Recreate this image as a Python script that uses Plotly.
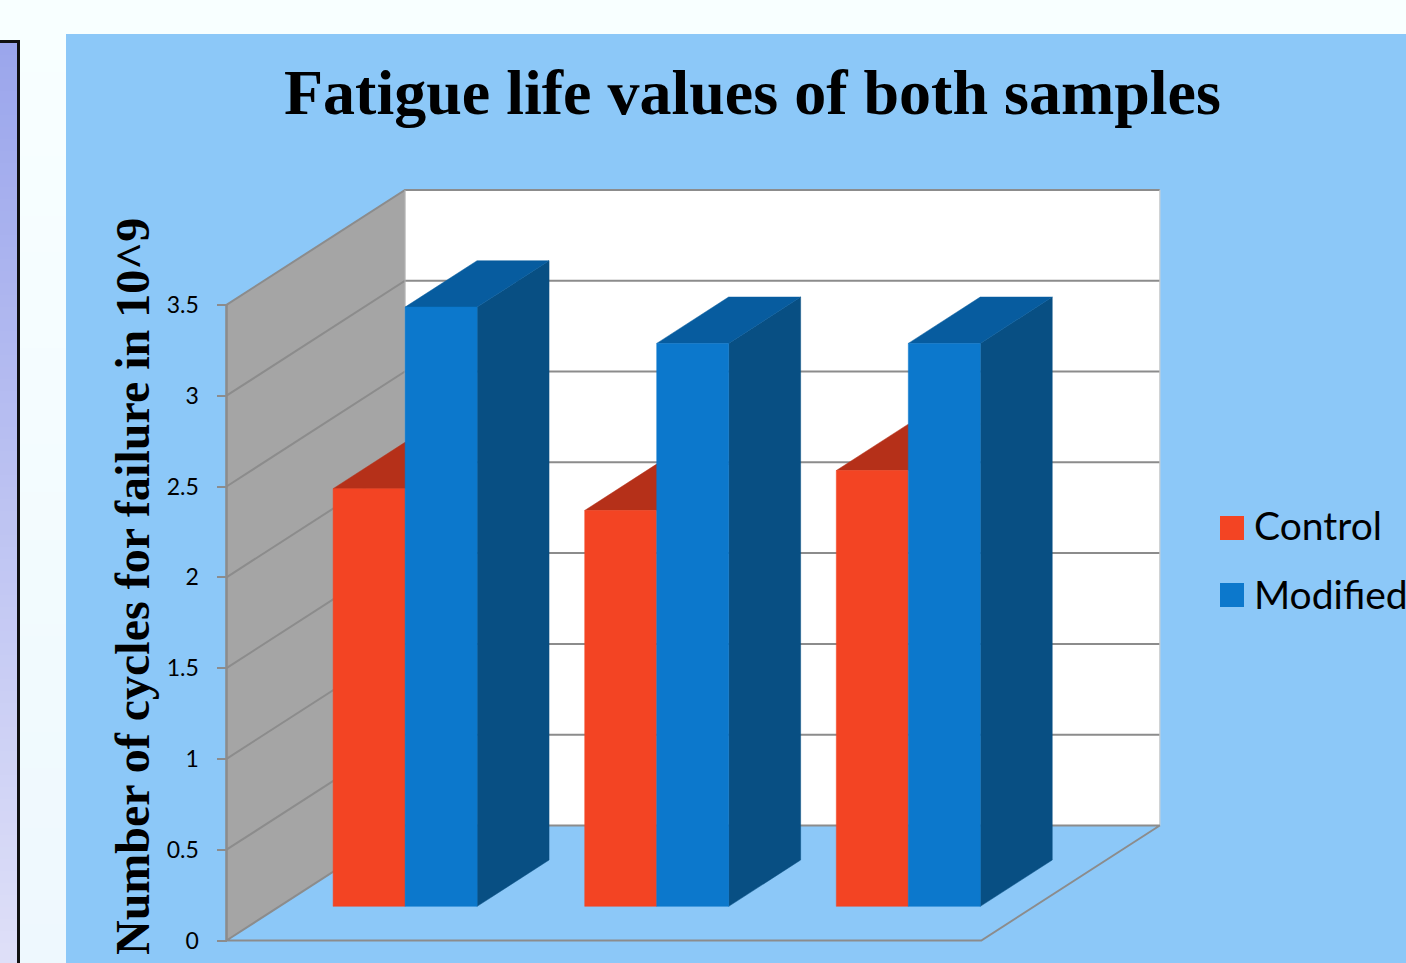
import plotly.graph_objects as go

# Chart values
samples = ["1", "2", "3"]
control = [2.3, 2.18, 2.4]
modified = [3.3, 3.1, 3.1]
y_ticks = [0, 0.5, 1, 1.5, 2, 2.5, 3, 3.5]
y_tick_labels = ["0", "0.5", "1", "1.5", "2", "2.5", "3", "3.5"]
series_names = ["Control", "Modified"]
title_text = "Fatigue life values of both samples"
y_title_text = "Number of cycles for failure in 10^9"

# Page geometry (pixels)
W, H = 1406, 963
ORIGIN_X, ORIGIN_Y = 226.5, 940.5
PX_PER_CATEGORY = 251.6
PX_PER_UNIT = 181.6

# Oblique projection of the depth axis, in axis units
DEPTH_X = 178.5 / PX_PER_CATEGORY
DEPTH_Y = 115.0 / PX_PER_UNIT
BAR_FRONT, BAR_BACK = 0.297, 0.70
BAR_WIDTH = 72.0 / PX_PER_CATEGORY
BAR_INSET = 0.213

# Colours
PANEL_BLUE = "#8CC8F8"
GREY_LINE = "#8C8C8C"
WALL = "#A5A5A5"
RED = {"front": "#F34423", "top": "#B53019"}
BLUE = {"front": "#0C78CC", "top": "#075C9F", "side": "#084F83"}


def project(x, value, depth):
    return x + depth * DEPTH_X, value + depth * DEPTH_Y


def face(corners, color, name):
    pts = [project(*c) for c in corners]
    xs = [p[0] for p in pts] + [pts[0][0]]
    ys = [p[1] for p in pts] + [pts[0][1]]
    return go.Scatter(x=xs, y=ys, mode="lines", fill="toself", fillcolor=color,
                      line=dict(width=0.5, color=color), name=name,
                      hoverinfo="skip", showlegend=False)


def edge(corners, width=2, color=GREY_LINE):
    pts = [project(*c) for c in corners]
    return go.Scatter(x=[p[0] for p in pts], y=[p[1] for p in pts], mode="lines",
                      line=dict(width=width, color=color),
                      hoverinfo="skip", showlegend=False)


fig = go.Figure()
top_value = y_ticks[-1]
n = len(samples)

# Back and side walls
fig.add_trace(face([(0, 0, 1), (n, 0, 1), (n, top_value, 1), (0, top_value, 1)], "#FFFFFF", "back wall"))
fig.add_trace(face([(0, 0, 0), (0, 0, 1), (0, top_value, 1), (0, top_value, 0)], WALL, "side wall"))

# Gridlines run along the side wall and across the back wall
for v in y_ticks[1:]:
    fig.add_trace(edge([(0, v, 0), (0, v, 1), (n, v, 1)]))

# Wall and floor outline
fig.add_trace(edge([(n, 0, 1), (n, top_value, 1)], width=1, color="#C4C4C4"))
fig.add_trace(edge([(0, 0, 1), (0, top_value, 1)], width=1, color="#B4B4B4"))
fig.add_trace(edge([(0, 0, 0), (n, 0, 0), (n, 0, 1), (0, 0, 1), (0, 0, 0)]))
fig.add_trace(edge([(0, 0, 0), (0, top_value, 0)], width=2.6))

# Boxes: painted left to right so the nearer faces cover the ones behind
for i in range(n):
    x0 = i + BAR_INSET
    x1 = x0 + BAR_WIDTH
    x2 = x1 + BAR_WIDTH

    c = control[i]
    fig.add_trace(face([(x0, c, BAR_FRONT), (x1, c, BAR_FRONT), (x1, c, BAR_BACK), (x0, c, BAR_BACK)],
                       RED["top"], series_names[0]))
    fig.add_trace(face([(x0, 0, BAR_FRONT), (x1, 0, BAR_FRONT), (x1, c, BAR_FRONT), (x0, c, BAR_FRONT)],
                       RED["front"], series_names[0]))

    m = modified[i]
    fig.add_trace(face([(x2, 0, BAR_FRONT), (x2, 0, BAR_BACK), (x2, m, BAR_BACK), (x2, m, BAR_FRONT)],
                       BLUE["side"], series_names[1]))
    fig.add_trace(face([(x1, m, BAR_FRONT), (x2, m, BAR_FRONT), (x2, m, BAR_BACK), (x1, m, BAR_BACK)],
                       BLUE["top"], series_names[1]))
    fig.add_trace(face([(x1, 0, BAR_FRONT), (x2, 0, BAR_FRONT), (x2, m, BAR_FRONT), (x1, m, BAR_FRONT)],
                       BLUE["front"], series_names[1]))


def paper_rect(x0, y0, x1, y1, color):
    return dict(type="rect", xref="paper", yref="paper", layer="below",
                x0=x0 / W, x1=x1 / W, y0=1 - y1 / H, y1=1 - y0 / H,
                fillcolor=color, line=dict(width=0))


def blend(a, b, t):
    return "rgb(%d,%d,%d)" % tuple(round(a[k] + (b[k] - a[k]) * t) for k in range(3))


# Slide background and its outlined side panel, both shaded top to bottom
shapes = []
STRIP = 12
for y in range(0, H, STRIP):
    t = y / H
    shapes.append(paper_rect(0, y, W, y + STRIP + 1, blend((248, 255, 255), (238, 248, 254), t)))
shapes.append(paper_rect(0, 40, 20, H, "#111111"))
for y in range(43, H, STRIP):
    t = (y - 43) / (H - 43)
    shapes.append(paper_rect(0, y, 17, min(y + STRIP + 1, H), blend((155, 166, 236), (223, 224, 248), t)))
shapes.append(paper_rect(66, 34, W, H, PANEL_BLUE))

# Legend keys
shapes.append(paper_rect(1220, 516, 1244, 540, RED["front"]))
shapes.append(paper_rect(1220, 583, 1244, 607, BLUE["front"]))

annotations = [
    dict(text="<b>%s</b>" % title_text, xref="paper", yref="paper", x=752 / W, y=1 - 92 / H,
         showarrow=False, xanchor="center", yanchor="middle",
         font=dict(family="Liberation Serif", size=64, color="#000000")),
    dict(text="<b>%s</b>" % y_title_text, xref="paper", yref="paper", x=132 / W, y=1 - 587 / H,
         showarrow=False, textangle=-90, xanchor="center", yanchor="middle",
         font=dict(family="Liberation Serif", size=48, color="#000000")),
    dict(text=series_names[0], xref="paper", yref="paper", x=1252 / W, y=1 - 525 / H,
         showarrow=False, xanchor="left", yanchor="middle",
         font=dict(family="Lato", size=39, color="#000000")),
    dict(text=series_names[1], xref="paper", yref="paper", x=1252 / W, y=1 - 594 / H,
         showarrow=False, xanchor="left", yanchor="middle",
         font=dict(family="Lato", size=39, color="#000000")),
]

fig.update_layout(
    width=W, height=H, margin=dict(l=0, r=0, t=0, b=0), autosize=False,
    paper_bgcolor="#F4FCFF", plot_bgcolor="rgba(0,0,0,0)",
    showlegend=False, shapes=shapes, annotations=annotations,
    xaxis=dict(domain=[0, 1], range=[-ORIGIN_X / PX_PER_CATEGORY, (W - ORIGIN_X) / PX_PER_CATEGORY],
               visible=False, fixedrange=True),
    yaxis=dict(domain=[0, 1], range=[-(H - ORIGIN_Y) / PX_PER_UNIT, ORIGIN_Y / PX_PER_UNIT],
               anchor="free", position=ORIGIN_X / W, showgrid=False, zeroline=False, showline=False,
               tickmode="array", tickvals=y_ticks, ticktext=y_tick_labels,
               ticks="outside", ticklen=10, tickwidth=2, tickcolor=GREY_LINE, ticklabelstandoff=13,
               tickfont=dict(family="Lato", size=23, color="#000000"), fixedrange=True),
)

fig.write_html("out.html", config=dict(displayModeBar=False))
